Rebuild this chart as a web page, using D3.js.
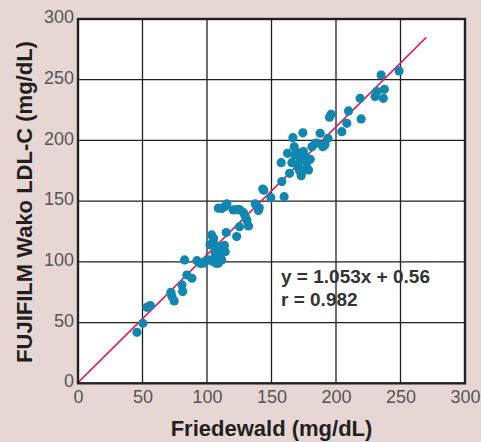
<!DOCTYPE html>
<html><head><meta charset="utf-8">
<script src="https://cdn.jsdelivr.net/npm/d3@7"></script>
<style>
html,body{margin:0;padding:0;background:#e7d7d4;}
svg{display:block;}
</style></head>
<body>
<svg id="chart" width="481" height="442"></svg>
<script>
const friedewald = [45.7,50.3,53.4,56,72,72.8,74.6,80.6,81.1,82.6,84.4,88.3,92.2,94.8,97.2,98.6,
101,102.3,103.6,104.9,104.9,105.1,106.2,106.4,107.2,107.5,108.8,109,110.1,110.3,111.4,112.6,114.1,113.5,
108.8,111.5,114,115.4,114.9,120.4,123.7,125.6,128.3,129.5,123,125.2,130.9,132.2,137.4,139.9,140.5,143.3,144,149.5,
158,157.5,159.8,162.4,164,166.6,165.8,167.6,168.3,169.5,170.4,171.7,173,172.1,174.3,173.5,174.7,176.1,177.4,176,178.7,180,181.3,183.8,185,187.7,189.8,191.5,193.7,195,196.2,
204.5,208.4,209.7,218.7,219.5,230.3,231.6,235,236.7,237.5,248.9];
const wako = [42,49.4,62.6,64,74.9,71.4,67.8,81,75.5,101.6,89.2,86.5,101,98.8,98.9,100.2,
101.6,114,122.2,116.7,100.2,119.4,104.3,107.1,98.8,111.3,98.9,112.5,108.5,104.3,101.6,111.3,108.4,113.5,
144.2,144,145.6,147.7,124.1,142.8,143.3,142.8,140.5,138,120.8,129,134.5,129.6,147.7,142.2,144.5,160,159,152.9,
166.1,181.7,153.7,189.4,172.9,202.3,181.7,194.8,188,190,178.3,175.1,171,182.6,206.3,189.4,190.9,186.7,181.7,175.8,175.7,184.5,194.8,197.6,197.8,205.9,194.9,196.4,201.8,219.1,221.5,
207.2,214.1,224.3,234.7,217.7,236.1,240.2,253.9,234.7,242.1,257.2];
const xTicks = [0,50,100,150,200,250,300];
const yTicks = [0,50,100,150,200,250,300];
const slope = 1.053, intercept = 0.56, lineEnd = 270;
const eqLines = ["y = 1.053x + 0.56", "r = 0.982"];
const xTitle = "Friedewald (mg/dL)";
const yTitle = "FUJIFILM Wako LDL-C (mg/dL)";

const svg = d3.select("#chart");
const L = 78, R = 465, T = 19, B = 383.3;
const x = d3.scaleLinear().domain([0,300]).range([L,R]);
const y = d3.scaleLinear().domain([0,300]).range([B,T]);
const ink = "#231f20";
const font = "'Liberation Sans', Arial, Helvetica, sans-serif";

svg.append("rect").attr("x",L).attr("y",T).attr("width",R-L).attr("height",B-T).attr("fill","#fff");

// grid
svg.append("g").selectAll("line").data(xTicks.slice(1,-1)).join("line")
  .attr("x1",d=>x(d)).attr("x2",d=>x(d)).attr("y1",T).attr("y2",B)
  .attr("stroke",ink).attr("stroke-width",1.3);
svg.append("g").selectAll("line").data(yTicks.slice(1,-1)).join("line")
  .attr("y1",d=>y(d)).attr("y2",d=>y(d)).attr("x1",L).attr("x2",R)
  .attr("stroke",ink).attr("stroke-width",1.3);

// axes
const xAxis = d3.axisBottom(x).tickValues(xTicks).tickSize(0).tickPadding(7);
const yAxis = d3.axisLeft(y).tickValues(yTicks).tickSize(0).tickPadding(4);
const gx = svg.append("g").attr("transform",`translate(0,${B})`).call(xAxis);
const gy = svg.append("g").attr("transform",`translate(${L},0)`).call(yAxis);
[gx,gy].forEach(g=>{
  g.select(".domain").remove();
  g.selectAll("text").attr("font-family",font).attr("font-size",18).attr("fill","#555");
});
gy.selectAll("text").attr("dy","0.2em");

// regression line
svg.append("line")
  .attr("x1",x(0)).attr("y1",y(intercept))
  .attr("x2",x(lineEnd)).attr("y2",y(slope*lineEnd+intercept))
  .attr("stroke","#e5195e").attr("stroke-width",1.5);

// points
svg.append("g").selectAll("circle").data(friedewald.map((d,i)=>[d,wako[i]])).join("circle")
  .attr("cx",d=>x(d[0])).attr("cy",d=>y(d[1])).attr("r",4.6)
  .attr("fill","#1087b0");

// frame
svg.append("rect").attr("x",L).attr("y",T).attr("width",R-L).attr("height",B-T)
  .attr("fill","none").attr("stroke",ink).attr("stroke-width",2.4);

// equation
svg.append("g").selectAll("text").data(eqLines).join("text")
  .attr("x",281).attr("y",(d,i)=>283+i*23)
  .attr("font-family",font).attr("font-size",19).attr("font-weight","bold")
  .attr("fill","#333").text(d=>d);

// titles
svg.append("text").attr("x",271.5).attr("y",436).attr("text-anchor","middle")
  .attr("font-family",font).attr("font-size",22).attr("font-weight","bold").attr("fill",ink).text(xTitle);
svg.append("text").attr("transform","translate(32,202) rotate(-90)").attr("text-anchor","middle")
  .attr("font-family",font).attr("font-size",22).attr("font-weight","bold").attr("fill",ink).text(yTitle);
</script>
</body></html>
